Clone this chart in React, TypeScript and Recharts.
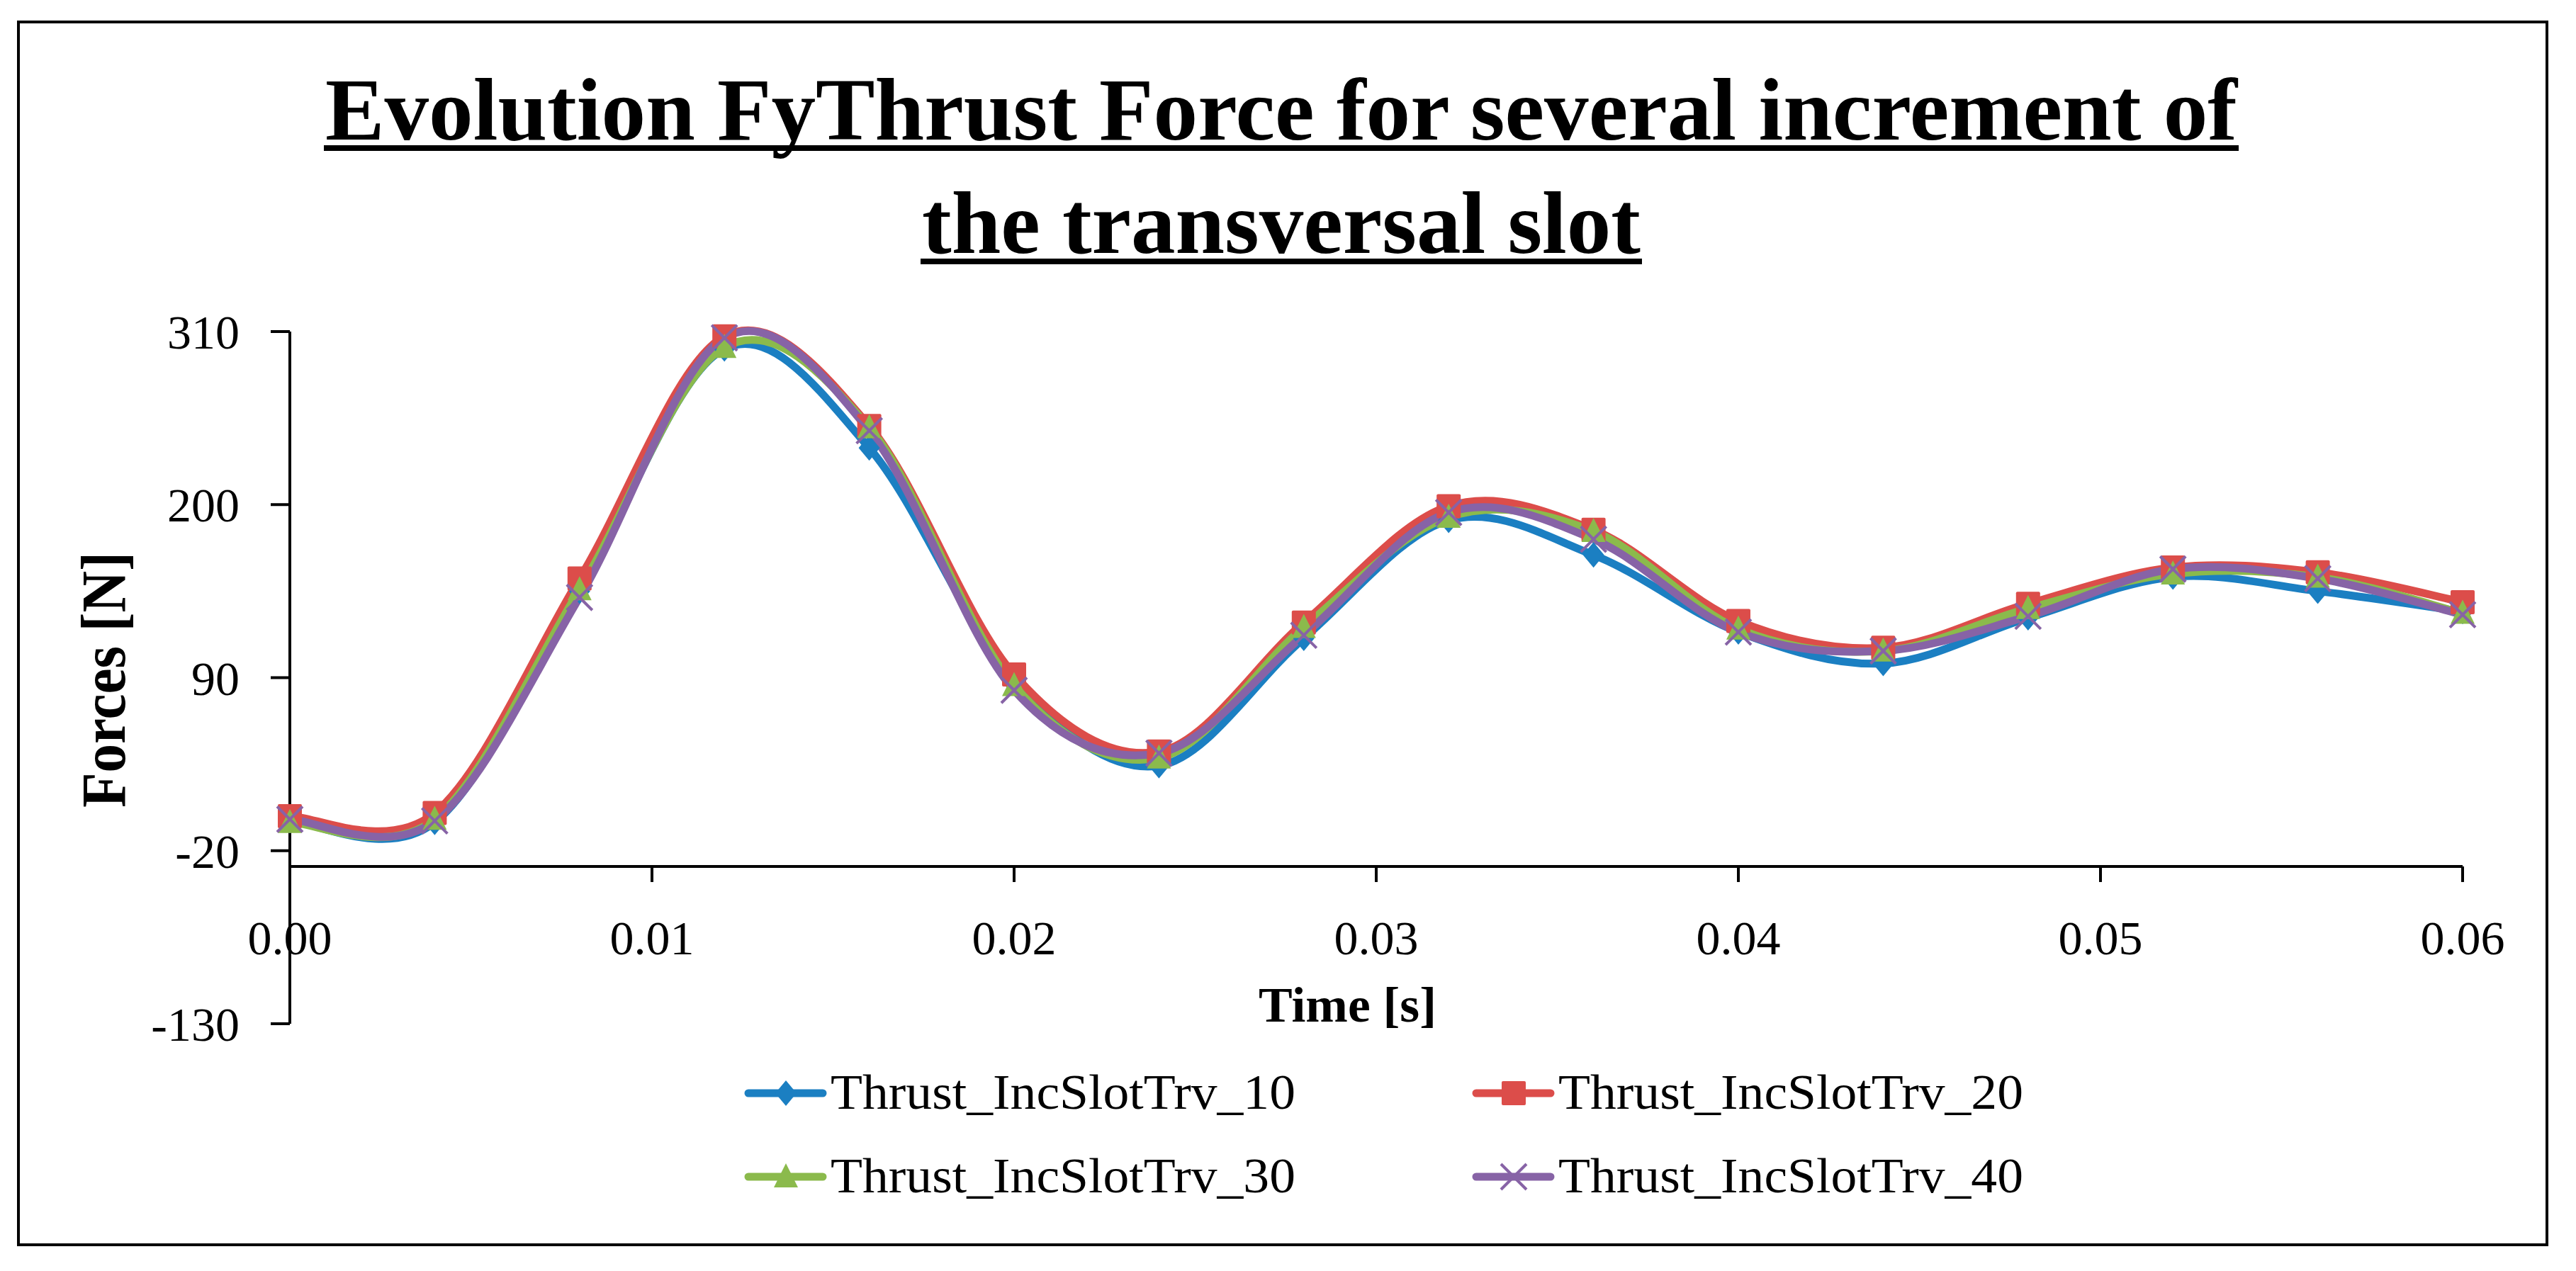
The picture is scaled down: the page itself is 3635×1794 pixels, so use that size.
import React from "react";
import { LineChart, Line, XAxis, YAxis, ReferenceLine } from "recharts";

const FONT = "'Palatino Linotype', 'Book Antiqua', Palatino, 'Liberation Serif', serif";

const TIME = [0, 0.004, 0.008, 0.012, 0.016, 0.02, 0.024, 0.028, 0.032, 0.036, 0.04, 0.044, 0.048, 0.052, 0.056, 0.06];
const SLOT_10 = [-1, -2, 145, 299, 236, 88, 34, 115, 190, 168, 119, 99, 128, 154, 145, 132];
const SLOT_20 = [2, 4, 153, 307, 250, 92, 43, 125, 199, 184, 126, 109, 137, 160, 157, 138];
const SLOT_30 = [-2, 0, 146, 300, 249, 85, 39, 122, 192, 183, 121, 107, 134, 156, 154, 131];
const SLOT_40 = [0, -1, 141, 306, 247, 82, 42, 117, 195, 178, 119, 107, 129, 159, 153, 130];

const X_TICKS = [0, 0.01, 0.02, 0.03, 0.04, 0.05, 0.06];
const Y_TICKS = [-130, -20, 90, 200, 310];
const X_CROSS = -30;

const SERIES = [
  { key: "s10", name: "Thrust_IncSlotTrv_10", color: "#1b7fc2", shape: "diamond" },
  { key: "s20", name: "Thrust_IncSlotTrv_20", color: "#dc4d4a", shape: "square" },
  { key: "s30", name: "Thrust_IncSlotTrv_30", color: "#8bba4c", shape: "triangle" },
  { key: "s40", name: "Thrust_IncSlotTrv_40", color: "#8763a6", shape: "cross" },
];

const rows = TIME.map((t, i) => ({ t, s10: SLOT_10[i], s20: SLOT_20[i], s30: SLOT_30[i], s40: SLOT_40[i] }));

// layout
const W = 3635;
const H = 1794;
const PLOT_TOP = 468;
const PLOT_BOTTOM = 1445;
const PLOT_LEFT = 409;
const PLOT_RIGHT = 3475;
const X_AXIS_H = 120;
const AXIS_Y = PLOT_TOP + ((PLOT_BOTTOM - PLOT_TOP) * (310 - X_CROSS)) / (310 - -130);

// Excel-style smoothing (cardinal / catmull-rom, 1/6 tangents)
const excelCurve = (context: any) => {
  let pts: number[][] = [];
  return {
    areaStart() {},
    areaEnd() {},
    lineStart() {
      pts = [];
    },
    point(x: number, y: number) {
      pts.push([+x, +y]);
    },
    lineEnd() {
      if (!pts.length) return;
      context.moveTo(pts[0][0], pts[0][1]);
      for (let i = 0; i < pts.length - 1; i++) {
        const p0 = pts[i - 1] || pts[i];
        const p1 = pts[i];
        const p2 = pts[i + 1];
        const p3 = pts[i + 2] || pts[i + 1];
        context.bezierCurveTo(
          p1[0] + (p2[0] - p0[0]) / 6,
          p1[1] + (p2[1] - p0[1]) / 6,
          p2[0] - (p3[0] - p1[0]) / 6,
          p2[1] - (p3[1] - p1[1]) / 6,
          p2[0],
          p2[1]
        );
      }
    },
  };
};

function Marker({ cx, cy, shape, color }: { cx: number; cy: number; shape: string; color: string }) {
  if (cx == null || cy == null) return null;
  if (shape === "diamond") {
    return <polygon points={`${cx},${cy - 18} ${cx + 15},${cy} ${cx},${cy + 18} ${cx - 15},${cy}`} fill={color} />;
  }
  if (shape === "square") {
    return <rect x={cx - 17} y={cy - 17} width={34} height={34} rx={2} fill={color} />;
  }
  if (shape === "triangle") {
    return <polygon points={`${cx},${cy - 19} ${cx + 17},${cy + 15} ${cx - 17},${cy + 15}`} fill={color} />;
  }
  return (
    <g stroke={color} strokeWidth={4}>
      <line x1={cx - 18} y1={cy - 18} x2={cx + 18} y2={cy + 18} />
      <line x1={cx - 18} y1={cy + 18} x2={cx + 18} y2={cy - 18} />
    </g>
  );
}

function XTick(props: any) {
  const { x, payload } = props;
  return (
    <g>
      <line x1={x} x2={x} y1={AXIS_Y} y2={AXIS_Y + 22} stroke="#000" strokeWidth={4} />
      <text x={x} y={1347} textAnchor="middle" fontFamily={FONT} fontSize={68} fill="#000">
        {Number(payload.value).toFixed(2)}
      </text>
    </g>
  );
}

const LEGEND = [
  { s: SERIES[0], x: 1056, y: 1543 },
  { s: SERIES[1], x: 2083, y: 1543 },
  { s: SERIES[2], x: 1056, y: 1661 },
  { s: SERIES[3], x: 2083, y: 1661 },
];

export default function App() {
  return (
    <div style={{ position: "absolute", left: 0, top: 0, width: W, height: H, background: "#fff", overflow: "hidden" }}>
      <div
        style={{
          position: "absolute",
          left: 24,
          top: 29,
          width: 3572,
          height: 1730,
          border: "4px solid #000",
          boxSizing: "border-box",
        }}
      />
      <div style={{ position: "absolute", left: 0, top: 0 }}>
        <LineChart
          width={W}
          height={H}
          data={rows}
          margin={{ top: PLOT_TOP, right: W - PLOT_RIGHT, bottom: H - PLOT_BOTTOM - X_AXIS_H, left: 0 }}
        >
          <XAxis
            type="number"
            dataKey="t"
            domain={[0, 0.06]}
            ticks={X_TICKS}
            interval={0}
            height={X_AXIS_H}
            axisLine={false}
            tickLine={false}
            tick={(p: any) => <XTick key={`xt-${p.index}`} {...p} />}
          />
          <YAxis
            type="number"
            domain={[-130, 310]}
            ticks={Y_TICKS}
            interval={0}
            width={PLOT_LEFT}
            axisLine={{ stroke: "#000", strokeWidth: 4 }}
            tickLine={{ stroke: "#000", strokeWidth: 4 }}
            tickSize={27}
            tickMargin={44}
            tick={{ fill: "#000", fontSize: 68, fontFamily: FONT }}
          />
          <ReferenceLine y={X_CROSS} stroke="#000" strokeWidth={4} />
          {SERIES.map((s) => (
            <Line
              key={s.key}
              dataKey={s.key}
              name={s.name}
              type={excelCurve as any}
              stroke={s.color}
              strokeWidth={11}
              strokeLinecap="round"
              isAnimationActive={false}
              activeDot={false}
              dot={(p: any) => (
                <Marker key={`${s.key}-${p.index}`} cx={p.cx} cy={p.cy} shape={s.shape} color={s.color} />
              )}
            />
          ))}
        </LineChart>
      </div>
      <svg width={W} height={H} style={{ position: "absolute", left: 0, top: 0, pointerEvents: "none" }}>
        <g fontFamily={FONT} fontWeight="bold" fill="#000">
          <text x={459} y={197} fontSize={124} textLength={2698} lengthAdjust="spacingAndGlyphs">
            Evolution FyThrust Force for several increment of
          </text>
          <rect x={457} y={205} width={2702} height={8} />
          <text x={1301} y={357} fontSize={124} textLength={1014} lengthAdjust="spacingAndGlyphs">
            the transversal slot
          </text>
          <rect x={1299} y={365} width={1018} height={8} />
          <text x={1776} y={1442} fontSize={70} textLength={251} lengthAdjust="spacingAndGlyphs">
            Time [s]
          </text>
          <text
            x={176}
            y={1140}
            fontSize={88}
            textLength={361}
            lengthAdjust="spacingAndGlyphs"
            transform="rotate(-90 176 1140)"
          >
            Forces [N]
          </text>
        </g>
        {LEGEND.map(({ s, x, y }) => (
          <g key={s.key}>
            <line x1={x} x2={x + 105} y1={y} y2={y} stroke={s.color} strokeWidth={11} strokeLinecap="round" />
            <Marker cx={x + 53} cy={y} shape={s.shape} color={s.color} />
            <text
              x={x + 116}
              y={y + 22}
              fontFamily={FONT}
              fontSize={70}
              fill="#000"
              textLength={656}
              lengthAdjust="spacingAndGlyphs"
            >
              {s.name}
            </text>
          </g>
        ))}
      </svg>
    </div>
  );
}
